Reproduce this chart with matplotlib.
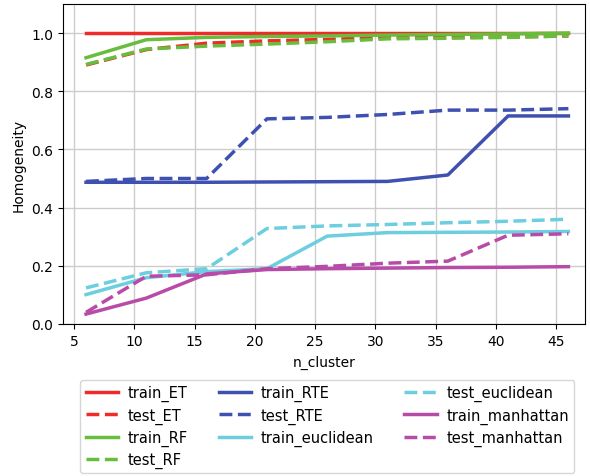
import matplotlib
matplotlib.use("Agg")
import matplotlib.pyplot as plt

n_cluster = [6, 11, 16, 21, 26, 31, 36, 41, 46]

train_ET = [1.0, 1.0, 1.0, 1.0, 1.0, 1.0, 1.0, 1.0, 1.0]
test_ET = [0.89, 0.943, 0.965, 0.973, 0.978, 0.985, 0.985, 0.986, 0.99]
train_RF = [0.915, 0.977, 0.985, 0.988, 0.99, 0.993, 0.995, 0.997, 1.0]
test_RF = [0.892, 0.945, 0.955, 0.962, 0.97, 0.98, 0.982, 0.985, 0.99]
train_RTE = [0.487, 0.487, 0.487, 0.488, 0.489, 0.49, 0.512, 0.715, 0.715]
test_RTE = [0.49, 0.5, 0.5, 0.705, 0.71, 0.72, 0.735, 0.735, 0.74]
train_euclidean = [0.101, 0.159, 0.18, 0.19, 0.302, 0.314, 0.315, 0.316, 0.318]
test_euclidean = [0.124, 0.176, 0.19, 0.328, 0.337, 0.342, 0.348, 0.353, 0.36]
train_manhattan = [0.034, 0.089, 0.172, 0.187, 0.19, 0.192, 0.194, 0.195, 0.197]
test_manhattan = [0.04, 0.164, 0.169, 0.19, 0.198, 0.209, 0.216, 0.305, 0.31]

series = [
    ("train_ET", train_ET, "#ee2a2a", "-"),
    ("test_ET", test_ET, "#ee2a2a", "--"),
    ("train_RF", train_RF, "#68bd3c", "-"),
    ("test_RF", test_RF, "#68bd3c", "--"),
    ("train_RTE", train_RTE, "#3f51b0", "-"),
    ("test_RTE", test_RTE, "#3f51b0", "--"),
    ("train_euclidean", train_euclidean, "#6ccedf", "-"),
    ("test_euclidean", test_euclidean, "#6ccedf", "--"),
    ("train_manhattan", train_manhattan, "#b94ba8", "-"),
    ("test_manhattan", test_manhattan, "#b94ba8", "--"),
]

fig = plt.figure(figsize=(5.9, 4.77), dpi=100)
ax = fig.add_axes([0.107, 0.3187, 0.885, 0.671])
for name, vals, color, ls in series:
    ax.plot(n_cluster, vals, color=color, linestyle=ls, linewidth=2.5, label=name)

ax.set_xlim(4.1, 47.4)
ax.set_ylim(0, 1.1)
ax.set_xticks([5, 10, 15, 20, 25, 30, 35, 40, 45])
ax.set_yticks([0.0, 0.2, 0.4, 0.6, 0.8, 1.0])
ax.grid(True, color="#cccccc", linewidth=1.0)
ax.set_axisbelow(True)
ax.set_xlabel("n_cluster", fontsize=10, labelpad=5)
ax.set_ylabel("Homogeneity", fontsize=10)
ax.tick_params(labelsize=10)

handles, labels = ax.get_legend_handles_labels()
fig.legend(handles, labels, ncol=3, loc="upper center",
           bbox_to_anchor=(0.555, 0.2013), borderaxespad=0.0, fontsize=10.5,
           handlelength=2.2, handletextpad=0.7, columnspacing=2.1,
           labelspacing=0.42, borderpad=0.35, frameon=True)

fig.savefig("out.png", dpi=100)
